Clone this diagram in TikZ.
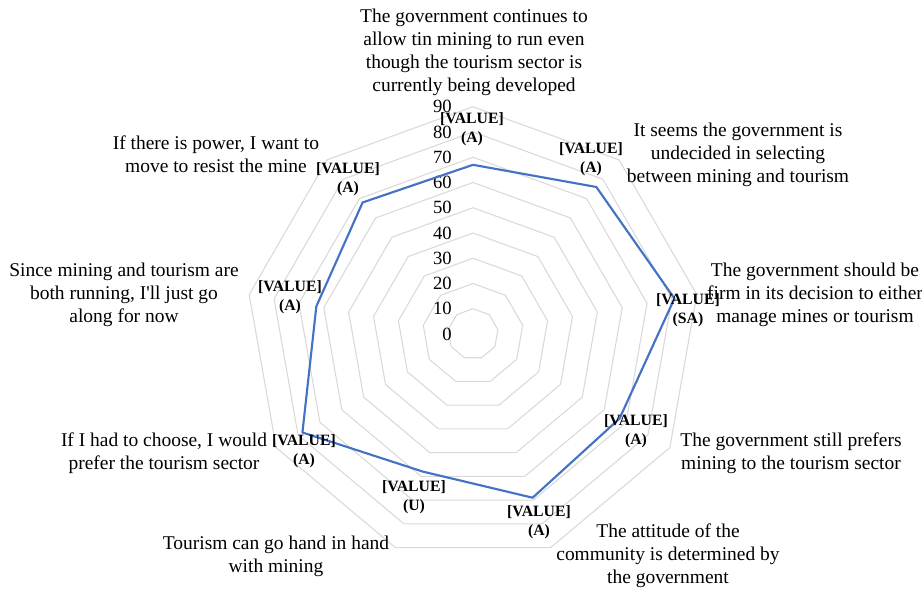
\documentclass[tikz,border=0pt]{standalone}
\usepackage{fontspec}
\setmainfont{Liberation Serif}
\definecolor{gridgrey}{HTML}{D9D9D9}
\definecolor{serieblue}{HTML}{4472C4}
\begin{document}
\begin{tikzpicture}[x=0.75pt,y=0.75pt,
    ring/.style={draw=gridgrey, line width=0.8pt},
    serie/.style={draw=serieblue, line width=1.6pt, line join=round},
    cat/.style={align=center, font=\fontsize{14.6}{17.3}\selectfont, inner sep=0pt},
    val/.style={align=center, font=\bfseries\fontsize{11.8}{14.2}\selectfont, inner sep=0pt},
    tick/.style={anchor=east, font=\fontsize{14}{16}\selectfont, inner sep=0pt}]
    \useasboundingbox (0,0) rectangle (922,589);

    \begin{scope}[shift={(473,255)}]
        % rings, every 10 units
        \foreach \r in {1,...,9}
            \draw[ring] (90:{\r*25.25}) \foreach \k in {1,...,8} { -- ({90-40*\k}:{\r*25.25}) } -- cycle;
        \foreach \t in {0,...,9}
            \node[tick] (t\t) at (-21,{\t*25.25}) {\the\numexpr\t*10\relax};

        % data points
        \foreach \v [count=\i from 0] in {67,76,81,67,69,58,78,63,68}
            \coordinate (p\i) at ({90-40*\i}:{\v*2.525});
        \draw[serie] (p0) -- (p1) -- (p2) -- (p3) -- (p4) -- (p5) -- (p6) -- (p7) -- (p8) -- cycle;
    \end{scope}

    \node[val] (v0) at (472,459.5) {[VALUE]\\(A)};
    \node[val] (v1) at (591,430) {[VALUE]\\(A)};
    \node[val] (v2) at (688,279) {[VALUE]\\(SA)};
    \node[val] (v3) at (636,158) {[VALUE]\\(A)};
    \node[val] (v4) at (539,67) {[VALUE]\\(A)};
    \node[val] (v5) at (414,92) {[VALUE]\\(U)};
    \node[val] (v6) at (304,138) {[VALUE]\\(A)};
    \node[val] (v7) at (290,292) {[VALUE]\\(A)};
    \node[val] (v8) at (348,410) {[VALUE]\\(A)};

    \node[cat] (c0) at (474,536.5) {The government continues to\\allow tin mining to run even\\though the tourism sector is\\currently being developed};
    \node[cat] (c1) at (738,434) {It seems the government is\\undecided in selecting\\between mining and tourism};
    \node[cat] (c2) at (815,294) {The government should be\\firm in its decision to either\\manage mines or tourism};
    \node[cat] (c3) at (791,135.5) {The government still prefers\\mining to the tourism sector};
    \node[cat] (c4) at (668,33) {The attitude of the\\community is determined by\\the government};
    \node[cat] (c5) at (276,33) {Tourism can go hand in hand\\with mining};
    \node[cat] (c6) at (164,135.5) {If I had to choose, I would\\prefer the tourism sector};
    \node[cat] (c7) at (124,294.5) {Since mining and tourism are\\both running, I\textquotesingle ll just go\\along for now};
    \node[cat] (c8) at (216,434.5) {If there is power, I want to\\move to resist the mine};
\end{tikzpicture}
\end{document}
